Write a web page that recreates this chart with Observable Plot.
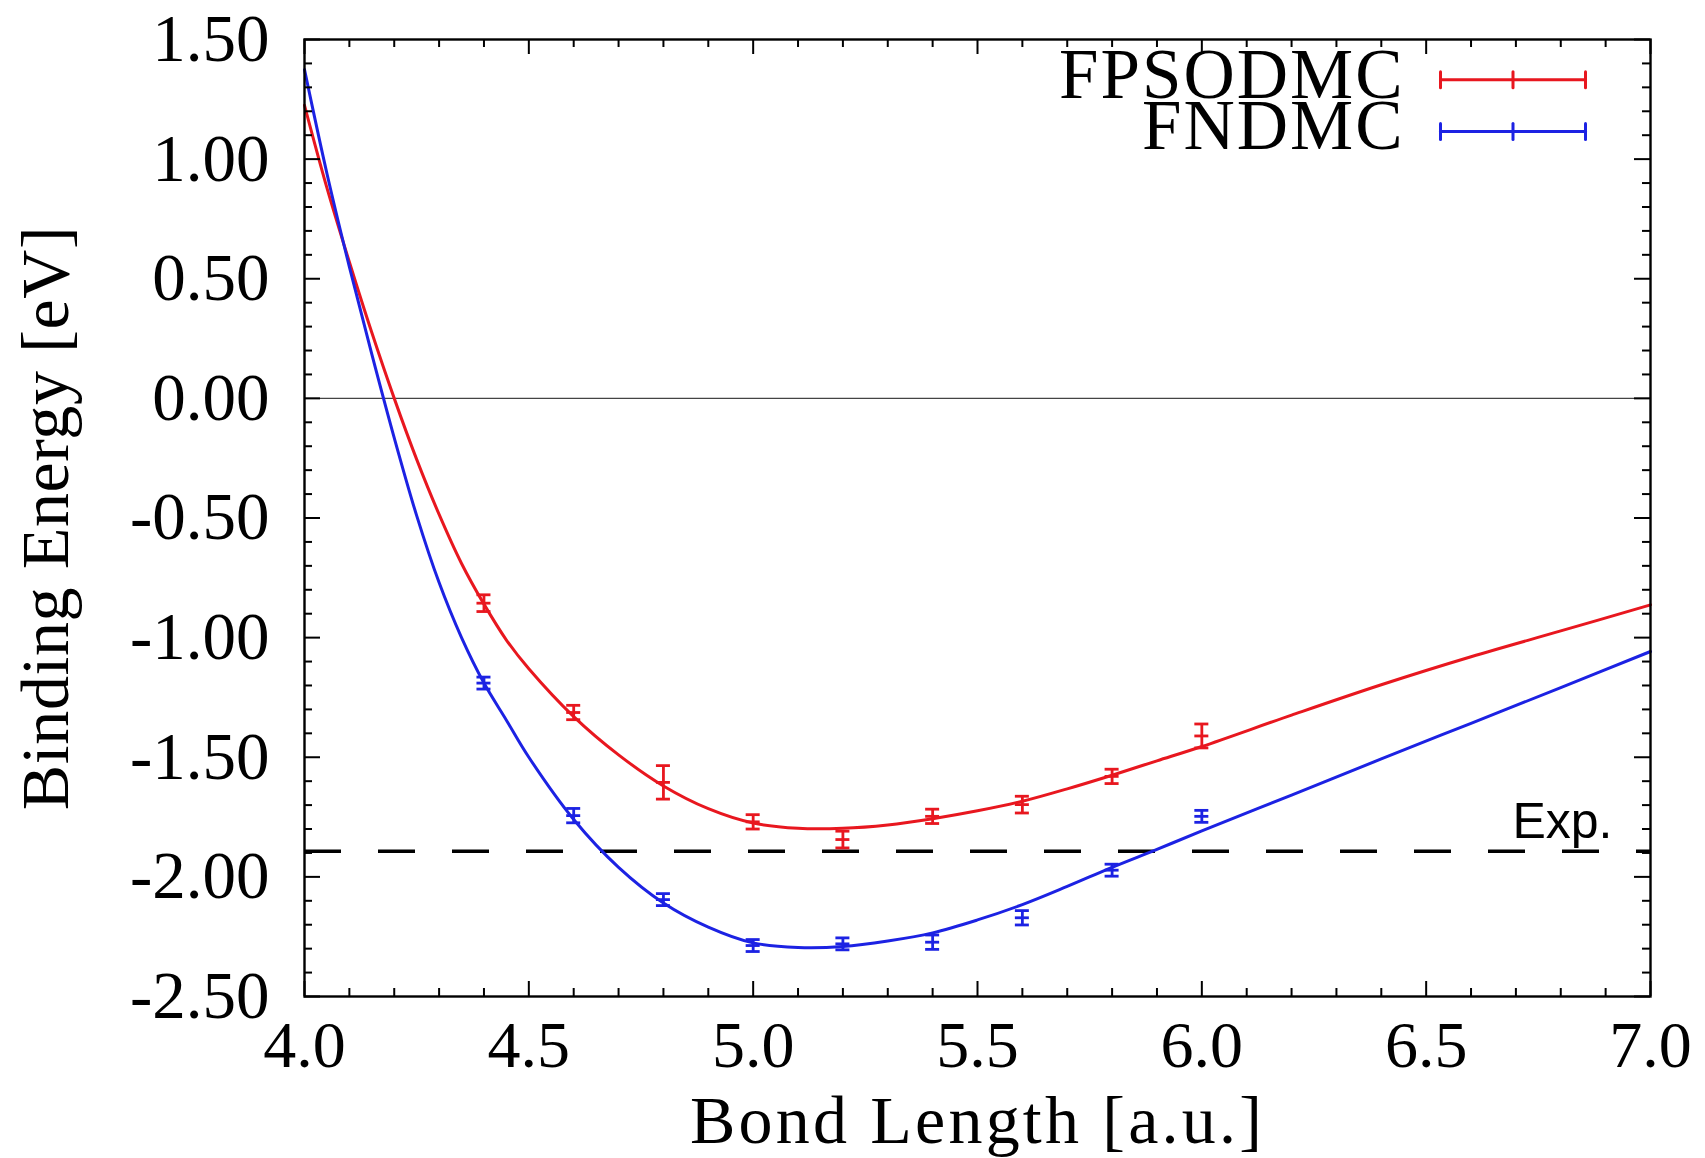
<!DOCTYPE html>
<html>
<head>
<meta charset="utf-8">
<script src="https://cdn.jsdelivr.net/npm/d3@7"></script>
<script src="https://cdn.jsdelivr.net/npm/@observablehq/plot@0.6"></script>
<style>
  html, body { margin: 0; padding: 0; background: #fff; }
  #chart svg { display: block; }
</style>
</head>
<body>
<div id="chart"></div>
<script>
// ---------- data ----------
const seriesNames = ["FPSODMC", "FNDMC"];
const seriesColors = ["#e8171f", "#1c22e3"];

// fitted curves
const curveX = [4.00, 4.05, 4.10, 4.15, 4.20, 4.25, 4.30, 4.35, 4.40, 4.45, 4.50, 4.60, 4.70, 4.80, 4.90,
                5.00, 5.10, 5.20, 5.30, 5.40, 5.50, 5.60, 5.70, 5.80, 5.90, 6.00, 6.20, 6.40, 6.60, 6.80, 7.00];
const curveFPSODMC = [1.225, 0.88, 0.57, 0.275, 0.0, -0.255, -0.485, -0.69, -0.86, -1.01, -1.13, -1.33, -1.49, -1.62, -1.715,
                      -1.775, -1.797, -1.797, -1.783, -1.757, -1.724, -1.684, -1.632, -1.575, -1.515, -1.455, -1.324, -1.197, -1.08, -0.972, -0.863];
const curveFNDMC = [1.374, 0.94, 0.55, 0.185, -0.165, -0.49, -0.77, -1.0, -1.19, -1.345, -1.50, -1.76, -1.96, -2.109, -2.21,
                    -2.276, -2.295, -2.291, -2.268, -2.234, -2.18, -2.116, -2.04, -1.96, -1.885, -1.808, -1.658, -1.507, -1.358, -1.209, -1.058];

// measured points with error bars
const pointX = [4.4, 4.6, 4.8, 5.0, 5.2, 5.4, 5.6, 5.8, 6.0];
const pointFPSODMC = [-0.856, -1.313, -1.605, -1.770, -1.844, -1.747, -1.698, -1.580, -1.411];
const errFPSODMC   = [0.035, 0.03, 0.07, 0.03, 0.035, 0.03, 0.035, 0.03, 0.05];
const pointFNDMC = [-1.19, -1.744, -2.095, -2.287, -2.280, -2.273, -2.171, -1.972, -1.747];
const errFNDMC   = [0.025, 0.03, 0.025, 0.025, 0.025, 0.03, 0.03, 0.025, 0.025];

const expValue = -1.893;
const expLabel = "Exp.";

// axes
const xTickValues = [4.0, 4.5, 5.0, 5.5, 6.0, 6.5, 7.0];
const xTickLabels = ["4.0", "4.5", "5.0", "5.5", "6.0", "6.5", "7.0"];
const xMinorValues = [4.1,4.2,4.3,4.4,4.6,4.7,4.8,4.9,5.1,5.2,5.3,5.4,5.6,5.7,5.8,5.9,6.1,6.2,6.3,6.4,6.6,6.7,6.8,6.9];
const yTickValues = [-2.5, -2.0, -1.5, -1.0, -0.5, 0.0, 0.5, 1.0, 1.5];
const yTickLabels = ["-2.50", "-2.00", "-1.50", "-1.00", "-0.50", "0.00", "0.50", "1.00", "1.50"];
const yMinorValues = [-2.4,-2.3,-2.2,-2.1,-1.9,-1.8,-1.7,-1.6,-1.4,-1.3,-1.2,-1.1,-0.9,-0.8,-0.7,-0.6,-0.4,-0.3,-0.2,-0.1,
                      0.1,0.2,0.3,0.4,0.6,0.7,0.8,0.9,1.1,1.2,1.3,1.4];
const xTitle = "Bond Length [a.u.]";
const yTitle = "Binding Energy [eV]";

// ---------- layout ----------
const W = 1705, H = 1158;
const mL = 304, mR = 55, mT = 39, mB = 162;
const frameW = W - mL - mR, frameH = H - mT - mB;
const majorLen = 15, minorLen = 8;
const capHalf = 7 / (frameW / 3); // 7 px in data units

const curves = [curveFPSODMC, curveFNDMC].map((ys, s) =>
  curveX.map((x, i) => ({x, y: ys[i], s})));
const points = [[pointFPSODMC, errFPSODMC], [pointFNDMC, errFNDMC]].map(([ys, es], s) =>
  pointX.map((x, i) => ({x, y: ys[i], e: es[i], s})));

function seriesMarks(s) {
  const c = seriesColors[s];
  const pts = points[s];
  const sw = 2.8;
  return [
    Plot.line(curves[s], {x: "x", y: "y", stroke: c, strokeWidth: 3, curve: "catmull-rom"}),
    Plot.ruleX(pts, {x: "x", y1: d => d.y - d.e, y2: d => d.y + d.e, stroke: c, strokeWidth: sw}),
    Plot.ruleY(pts, {y: d => d.y - d.e, x1: d => d.x - capHalf, x2: d => d.x + capHalf, stroke: c, strokeWidth: sw}),
    Plot.ruleY(pts, {y: d => d.y + d.e, x1: d => d.x - capHalf, x2: d => d.x + capHalf, stroke: c, strokeWidth: sw}),
    Plot.ruleY(pts, {y: "y", x1: d => d.x - capHalf, x2: d => d.x + capHalf, stroke: c, strokeWidth: sw})
  ];
}

const noShape = {draw(context, l) { context.moveTo(0, 0); context.lineTo(0, -l); }};

function legendMarks(s, lineDy, textDy) {
  const c = seriesColors[s];
  return [
    Plot.text([seriesNames[s]], {text: d => d, frameAnchor: "top-right", dx: -246, dy: textDy,
      textAnchor: "end", lineAnchor: "middle", fontSize: 71}),
    Plot.vector([0], {frameAnchor: "top-right", dx: -210, dy: lineDy, rotate: 90, length: 145,
      anchor: "start", shape: noShape, stroke: c, strokeWidth: 3, fill: "none"}),
    ...[-210, -137.5, -65].map(dx => Plot.vector([0], {frameAnchor: "top-right", dx, dy: lineDy, rotate: 0,
      length: 16, anchor: "middle", shape: noShape, stroke: c, strokeWidth: 3, fill: "none"}))
  ];
}

const chart = Plot.plot({
  width: W, height: H,
  marginLeft: mL, marginRight: mR, marginTop: mT, marginBottom: mB,
  x: {domain: [4, 7]},
  y: {domain: [-2.5, 1.5]},
  style: {fontFamily: "'Liberation Serif', 'Times New Roman', serif", background: "#fff", color: "#000"},
  marks: [
    Plot.ruleY([0], {stroke: "#444", strokeWidth: 1.2}),
    Plot.ruleY([expValue], {stroke: "#000", strokeWidth: 3.5, strokeDasharray: "37,37"}),
    ...seriesMarks(0),
    ...seriesMarks(1),
    // inward ticks on all four sides
    Plot.ruleX(xTickValues, {x: d => d, insetTop: frameH - majorLen, stroke: "#000", strokeWidth: 2}),
    Plot.ruleX(xTickValues, {x: d => d, insetBottom: frameH - majorLen, stroke: "#000", strokeWidth: 2}),
    Plot.ruleX(xMinorValues, {x: d => d, insetTop: frameH - minorLen, stroke: "#000", strokeWidth: 2}),
    Plot.ruleX(xMinorValues, {x: d => d, insetBottom: frameH - minorLen, stroke: "#000", strokeWidth: 2}),
    Plot.ruleY(yTickValues, {y: d => d, insetRight: frameW - majorLen - 1, stroke: "#000", strokeWidth: 2}),
    Plot.ruleY(yTickValues, {y: d => d, insetLeft: frameW - majorLen - 1, stroke: "#000", strokeWidth: 2}),
    Plot.ruleY(yMinorValues, {y: d => d, insetRight: frameW - minorLen, stroke: "#000", strokeWidth: 2}),
    Plot.ruleY(yMinorValues, {y: d => d, insetLeft: frameW - minorLen, stroke: "#000", strokeWidth: 2}),
    Plot.frame({stroke: "#000", strokeWidth: 2.4}),
    Plot.axisX(xTickValues, {tickSize: 0, tickPadding: 24, fontSize: 66, label: null,
      tickFormat: d => xTickLabels[xTickValues.indexOf(d)]}),
    Plot.axisY(yTickValues, {tickSize: 0, tickPadding: 35, fontSize: 67, label: null,
      tickFormat: d => yTickLabels[yTickValues.indexOf(d)]}),
    Plot.text([xTitle], {text: d => d, frameAnchor: "bottom", dy: 125, dx: 0, fontSize: 68,
      textAnchor: "middle", lineAnchor: "middle"}),
    Plot.text([yTitle], {text: d => d, frameAnchor: "left", dx: -258, rotate: -90, fontSize: 68,
      textAnchor: "middle", lineAnchor: "middle"}),
    ...legendMarks(0, 40.3, 36.2),
    ...legendMarks(1, 92, 87.2),
    Plot.text([expValue], {y: d => d, text: () => expLabel, frameAnchor: "right", dx: -38, dy: -29.5,
      textAnchor: "end", lineAnchor: "middle", fontSize: 50, fontFamily: "'Liberation Sans', Arial, sans-serif"})
  ]
});
document.getElementById("chart").appendChild(chart);

// letter spacing to approximate the wider Computer Modern glyphs
const spacing = {[xTitle]: "3.2px", [yTitle]: "0.6px", [seriesNames[0]]: "2px", [seriesNames[1]]: "2px"};
d3.select(chart).selectAll("text").each(function() {
  const t = this.textContent;
  if (spacing[t]) this.style.letterSpacing = spacing[t];
});
</script>
</body>
</html>
